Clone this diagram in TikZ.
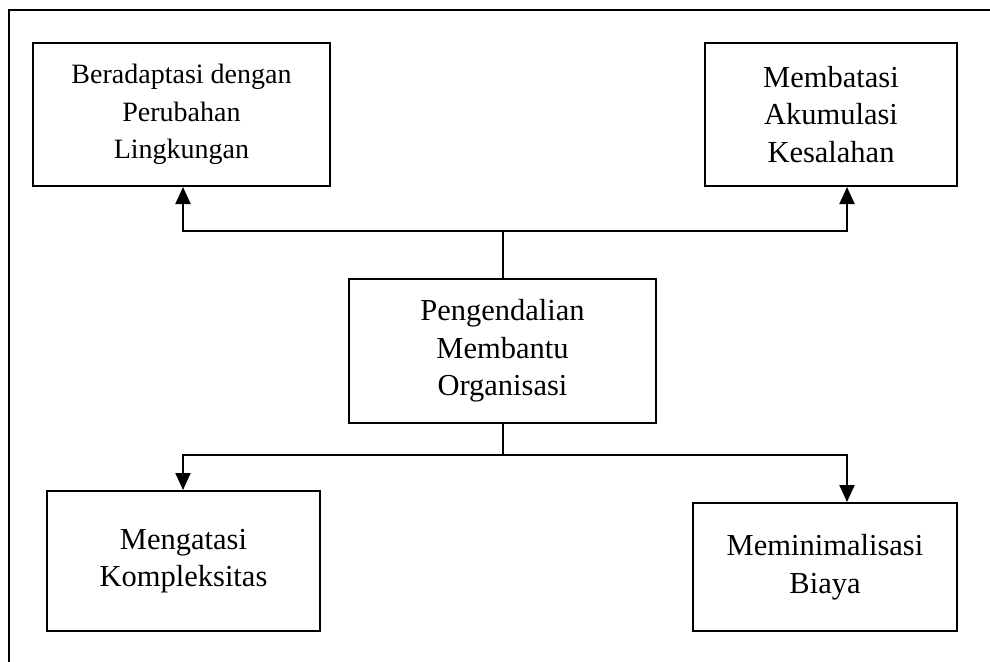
\documentclass[tikz,border=0pt]{standalone}
\usepackage{fontspec}
\setmainfont{Liberation Serif}
\usetikzlibrary{arrows.meta,calc}
\begin{document}
\begin{tikzpicture}[x=1pt,y=-1pt,
  box/.style={draw,line width=2pt,rectangle,align=center,inner sep=0pt,
    font=\fontsize{30.5}{37.5}\selectfont},
  smallbox/.style={box,font=\fontsize{28}{37.5}\selectfont},
  link/.style={line width=2pt},
  arr/.style={line width=2pt,-{Triangle[width=15pt,length=17pt]}}]
\useasboundingbox (0,0) rectangle (990,661);
\clip (0,0) rectangle (990,661);
% outer frame, running past the page edge on the right and bottom
\draw[line width=2pt] (9,1000) -- (9,10) -- (1200,10);
% boxes
\node[smallbox,minimum width=297pt,minimum height=143pt] (tl) at (181.5,114.5)
  {Beradaptasi dengan\\Perubahan\\Lingkungan};
\node[box,minimum width=252pt,minimum height=143pt] (tr) at (831,114.5)
  {Membatasi\\Akumulasi\\Kesalahan};
\node[box,minimum width=307pt,minimum height=144pt] (c) at (502.5,351)
  {Pengendalian\\Membantu\\Organisasi};
\node[box,minimum width=273pt,minimum height=140pt] (bl) at (183.5,561)
  {Mengatasi\\Kompleksitas};
\node[box,minimum width=264pt,minimum height=128pt] (br) at (825,567)
  {Meminimalisasi\\Biaya};
% junctions
\coordinate (tj) at (502.5,231);
\coordinate (bj) at (502.5,455);
% connectors
\draw[link] (c.north) -- (tj);
\draw[arr] (tj) -| ([xshift=1.5pt]tl.south);
\draw[arr] (tj) -| ([xshift=16pt]tr.south);
\draw[link] (c.south) -- (bj);
\draw[arr] (bj) -| ([xshift=-0.5pt]bl.north);
\draw[arr] (bj) -| ([xshift=22pt]br.north);
\end{tikzpicture}
\end{document}
